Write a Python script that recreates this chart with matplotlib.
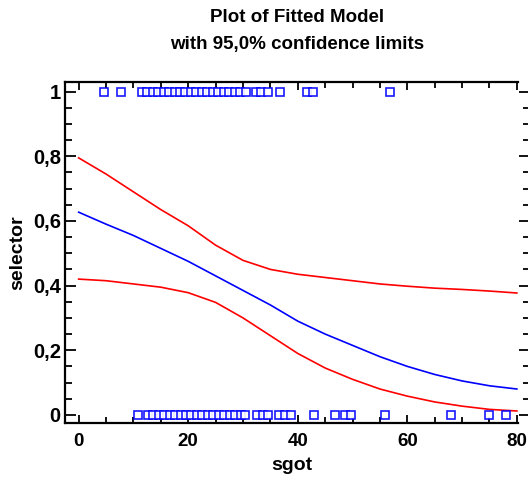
import matplotlib
matplotlib.use("Agg")
import matplotlib.pyplot as plt
from matplotlib.ticker import MultipleLocator, FuncFormatter

plt.rcParams['font.family'] = ['Liberation Sans', 'DejaVu Sans']

# observed responses
sgot_ones = [4.7, 7.7, 11.5, 12.5, 13.5, 14.5, 15.5, 16.5, 17.5, 18.5, 19.5, 20.5,
             21.5, 22.5, 23.5, 24.5, 25.5, 26.5, 27.5, 28.5, 29.5, 30.5,
             32.3, 33.2, 34.6, 36.8, 41.7, 42.8, 56.9]
sgot_zeros = [10.8, 12.6, 13.6, 14.6, 15.6, 16.6, 17.6, 18.6, 19.6, 20.6, 21.6,
              22.6, 23.6, 24.6, 25.6, 26.6, 27.6, 28.6, 29.6, 30.3,
              32.6, 33.6, 34.6, 36.6, 37.7, 38.8, 43.0, 46.8, 48.6, 49.8,
              55.9, 68.0, 75.0, 78.0]

# fitted model and 95% limits
fit_x = [0, 5, 10, 15, 20, 25, 30, 35, 40, 45, 50, 55, 60, 65, 70, 75, 80]
fit_mid = [0.627, 0.59, 0.555, 0.515, 0.475, 0.43, 0.385, 0.34, 0.29, 0.25,
           0.215, 0.18, 0.15, 0.125, 0.105, 0.09, 0.08]
fit_upper = [0.795, 0.745, 0.69, 0.635, 0.585, 0.525, 0.478, 0.45, 0.435, 0.425,
             0.415, 0.405, 0.398, 0.392, 0.388, 0.383, 0.377]
fit_lower = [0.42, 0.415, 0.405, 0.395, 0.378, 0.348, 0.30, 0.245, 0.19, 0.145,
             0.11, 0.08, 0.058, 0.04, 0.027, 0.017, 0.012]

fig = plt.figure(figsize=(5.28, 4.79), dpi=100)
ax = fig.add_axes([0.123, 0.117, 0.858, 0.712])

ax.plot(fit_x, fit_upper, color='#ff0000', lw=1.2)
ax.plot(fit_x, fit_lower, color='#ff0000', lw=1.2)
ax.plot(fit_x, fit_mid, color='#0000ff', lw=1.2)
ax.plot(sgot_ones, [1] * len(sgot_ones), 's', ms=5.5, mfc='white',
        mec='#0000ff', mew=1.2, alpha=0.9, linestyle='none')
ax.plot(sgot_zeros, [0] * len(sgot_zeros), 's', ms=5.5, mfc='white',
        mec='#0000ff', mew=1.2, alpha=0.9, linestyle='none')

ax.set_xlim(-2.5, 80.2)
ax.set_ylim(-0.025, 1.03)

ax.xaxis.set_major_locator(MultipleLocator(20))
ax.xaxis.set_minor_locator(MultipleLocator(5))
ax.yaxis.set_major_locator(MultipleLocator(0.2))
ax.yaxis.set_minor_locator(MultipleLocator(0.05))

def comma(v, pos):
    s = f"{v:.1f}".rstrip('0').rstrip('.')
    if s in ('-0',):
        s = '0'
    return s.replace('.', ',')

ax.yaxis.set_major_formatter(FuncFormatter(comma))
ax.xaxis.set_major_formatter(FuncFormatter(lambda v, p: f"{v:.0f}"))

for side in ('left', 'top', 'bottom'):
    ax.spines[side].set_linewidth(1.6)
ax.spines['right'].set_position(('outward', 9))
ax.spines['right'].set_color('none')

ax.tick_params(axis='both', which='both', direction='in', top=True, right=True,
               width=1.3, color='black')
ax.tick_params(axis='y', which='major', length=8, labelsize=14.5, pad=3)
ax.tick_params(axis='y', which='minor', length=5)
ax.tick_params(axis='x', which='major', length=6, labelsize=13.5, pad=7)
ax.tick_params(axis='x', which='minor', length=4)
for lab in ax.get_xticklabels() + ax.get_yticklabels():
    lab.set_fontweight('bold')

ax.set_xlabel('sgot', fontsize=14, fontweight='bold', labelpad=5)
ax.set_ylabel('selector', fontsize=14, fontweight='bold', labelpad=5)

fig.text(0.563, 0.963, 'Plot of Fitted Model', ha='center', va='center',
         fontsize=13.5, fontweight='bold')
fig.text(0.563, 0.907, 'with 95,0% confidence limits', ha='center', va='center',
         fontsize=13.5, fontweight='bold')

fig.savefig('out.png', dpi=100)
